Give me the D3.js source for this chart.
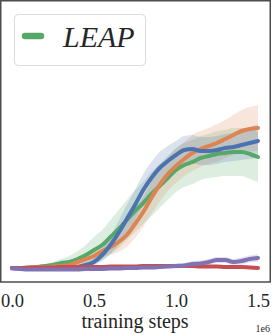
<!DOCTYPE html>
<html>
<head>
<meta charset="utf-8">
<script src="https://cdn.jsdelivr.net/npm/d3@7"></script>
<style>
  html, body { margin: 0; padding: 0; background: #fff; }
  svg { display: block; font-family: "Liberation Serif", "DejaVu Serif", serif; }
</style>
</head>
<body>
<svg id="chart" width="272" height="335"></svg>
<script>
// training steps, in units of 1e6
var steps = [0, 0.05, 0.1, 0.15, 0.2, 0.25, 0.3, 0.35, 0.4, 0.45, 0.5, 0.55, 0.6, 0.65, 0.7, 0.75,
             0.8, 0.85, 0.9, 0.95, 1.0, 1.05, 1.1, 1.15, 1.2, 1.25, 1.3, 1.35, 1.4, 1.45, 1.5];
var xTicks = [0, 0.5, 1.0, 1.5];

// mean returns (normalised) per method
var leapMean   = [.005,.005,.0075,.01,.015,.02,.03,.035,.05,.07,.095,.12,.16,.2,.245,.29,.33,.375,.415,.455,.495,.52,.535,.555,.565,.575,.58,.585,.585,.575,.56];
var blueMean   = [.005,.0025,0,0,0,0,.0025,.005,.01,.02,.035,.07,.12,.18,.25,.32,.395,.455,.505,.54,.57,.595,.6,.59,.59,.595,.605,.61,.62,.63,.64];
var orangeMean = [.005,.005,.0075,.01,.01,.0125,.015,.02,.035,.05,.065,.09,.11,.135,.17,.225,.285,.355,.42,.475,.515,.55,.58,.6,.615,.63,.65,.67,.69,.7,.705];
var redMean    = [.005,.005,.005,.0075,.0075,.0075,.01,.01,.01,.01,.01,.01,.0125,.0125,.0125,.0125,.015,.015,.015,.015,.015,.015,.015,.0125,.0125,.0125,.01,.01,.01,.0075,.005];
var purpleMean = [.0025,0,-.0025,-.0025,-.0025,-.0025,-.0025,-.0025,-.0025,0,0,0,.0025,.0025,.005,.005,.0075,.0075,.01,.0125,.015,.0175,.025,.0275,.035,.045,.045,.035,.04,.05,.055];

// spread (std) per method
var leapStd   = [.0025,.0025,.005,.0075,.01,.015,.02,.03,.04,.05,.065,.075,.085,.095,.1,.105,.105,.11,.11,.11,.11,.11,.11,.11,.11,.115,.115,.12,.12,.125,.125];
var blueStd   = [.0025,.0025,.0025,.0025,.0025,.0025,.005,.005,.01,.015,.02,.03,.045,.06,.07,.075,.08,.08,.08,.075,.07,.07,.07,.07,.07,.07,.07,.07,.075,.08,.085];
var orangeStd = [.0025,.0025,.0025,.0025,.005,.005,.0075,.01,.015,.02,.025,.03,.04,.05,.06,.07,.075,.08,.085,.085,.085,.085,.09,.09,.09,.095,.095,.1,.105,.11,.115];
var redStd    = [.005,.005,.005,.005,.005,.005,.005,.005,.005,.005,.005,.005,.005,.005,.005,.005,.005,.005,.005,.005,.005,.005,.005,.005,.005,.005,.005,.005,.005,.005,.005];
var purpleStd = [.005,.005,.005,.005,.005,.005,.005,.005,.005,.005,.005,.005,.005,.005,.005,.0075,.0075,.01,.01,.01,.0125,.0125,.015,.015,.015,.015,.015,.015,.0175,.0175,.02];

var series = [
  {name: "LEAP",   color: "#55A868", mean: leapMean,   std: leapStd},
  {name: "orange", color: "#DD8452", mean: orangeMean, std: orangeStd},
  {name: "blue",   color: "#4C72B0", mean: blueMean,   std: blueStd},
  {name: "red",    color: "#C44E52", mean: redMean,    std: redStd},
  {name: "purple", color: "#8172B3", mean: purpleMean, std: purpleStd}
];

var svg = d3.select("#chart");

var x = d3.scaleLinear().domain([0, 1.5]).range([12, 258]);
var y = d3.scaleLinear().domain([0, 1]).range([269, 69]);

var plot = svg.append("g");

var area = d3.area()
  .x(function(d, i) { return x(steps[i]); })
  .y0(function(d) { return y(d[0] - d[1]); })
  .y1(function(d) { return y(d[0] + d[1]); })
  .curve(d3.curveMonotoneX);

var line = d3.line()
  .x(function(d, i) { return x(steps[i]); })
  .y(function(d) { return y(d); })
  .curve(d3.curveMonotoneX);

series.forEach(function(s) {
  plot.append("path")
    .datum(s.mean.map(function(m, i) { return [m, s.std[i]]; }))
    .attr("d", area)
    .attr("fill", s.color)
    .attr("fill-opacity", 0.2)
    .attr("stroke", "none");
});

series.forEach(function(s) {
  plot.append("path")
    .datum(s.mean)
    .attr("d", line)
    .attr("fill", "none")
    .attr("stroke", s.color)
    .attr("stroke-width", 4)
    .attr("stroke-linecap", "round")
    .attr("stroke-linejoin", "round");
});

// frame
svg.append("rect")
  .attr("x", 0.75).attr("y", 0.75)
  .attr("width", 269.5).attr("height", 281.25)
  .attr("fill", "none")
  .attr("stroke", "#4d4d4d")
  .attr("stroke-width", 1.5);

// x axis
var xAxis = d3.axisBottom(x)
  .tickValues(xTicks)
  .tickSize(0)
  .tickFormat(d3.format(".1f"));

var axisG = svg.append("g")
  .attr("transform", "translate(0,282)")
  .call(xAxis);
axisG.select(".domain").remove();
axisG.selectAll("text")
  .attr("y", 25)
  .attr("dy", 0)
  .attr("fill", "#262626")
  .style("font-family", "Liberation Serif, serif")
  .style("font-size", "18.5px");

svg.append("text")
  .attr("x", 135).attr("y", 328)
  .attr("text-anchor", "middle")
  .attr("fill", "#262626")
  .style("font-size", "20px")
  .text("training steps");

svg.append("text")
  .attr("x", 270).attr("y", 332)
  .attr("text-anchor", "end")
  .attr("fill", "#262626")
  .style("font-size", "10px")
  .text("1e6");

// legend
var legend = svg.append("g");
legend.append("rect")
  .attr("x", 14.5).attr("y", 14.5)
  .attr("width", 131).attr("height", 51)
  .attr("rx", 4)
  .attr("fill", "#fff")
  .attr("fill-opacity", 0.8)
  .attr("stroke", "#dcdcdc")
  .attr("stroke-width", 1);
legend.append("line")
  .attr("x1", 25).attr("x2", 41)
  .attr("y1", 36).attr("y2", 36)
  .attr("stroke", series[0].color)
  .attr("stroke-width", 6.5)
  .attr("stroke-linecap", "round");
legend.append("text")
  .attr("x", 63).attr("y", 47)
  .attr("fill", "#262626")
  .style("font-style", "italic")
  .style("font-size", "30px")
  .text("LEAP");
</script>
</body>
</html>
